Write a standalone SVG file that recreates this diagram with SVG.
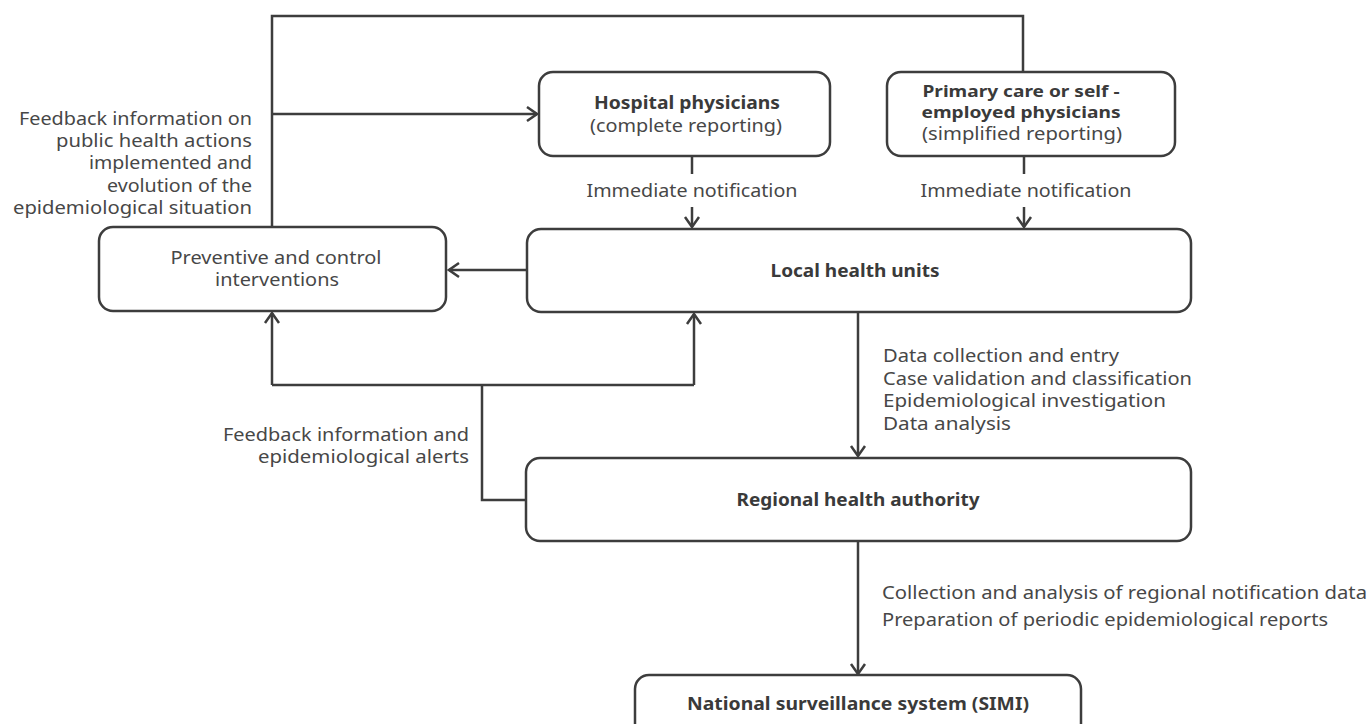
<svg xmlns="http://www.w3.org/2000/svg" width="1370" height="724" viewBox="0 0 1370 724">
<defs>
<marker id="ah" markerWidth="14" markerHeight="20" viewBox="-12 -10 14 20" refX="0" refY="0" orient="auto" markerUnits="userSpaceOnUse"><path d="M-10,-7 L0,0 L-10,7" fill="none" stroke="#3d3d3d" stroke-width="2.5"/></marker>
</defs>
<style>
.box{fill:#fff;stroke:#3d3d3d;stroke-width:2.5}
.ln{fill:none;stroke:#3d3d3d;stroke-width:2.5}
.ar{fill:none;stroke:#3d3d3d;stroke-width:2.5;marker-end:url(#ah)}
text{font-family:"Noto Sans","Open Sans","DejaVu Sans",sans-serif;fill:#474747;font-size:18px}
.b{font-weight:bold;fill:#3a3a3a;font-size:18px}
.s{font-size:16.5px}
.m{text-anchor:middle}
.e{text-anchor:end}
</style>
<rect width="1370" height="724" fill="#fff"/>
<g id="connectors">
<path class="ln" d="M272,227 V16 H1023 V72"/>
<path class="ar" d="M272,114 H537"/>
<path class="ln" d="M692,156 V174"/>
<path class="ar" d="M692,207 V227"/>
<path class="ln" d="M1024,156 V174"/>
<path class="ar" d="M1024,207 V227"/>
<path class="ar" d="M527,270 H449"/>
<path class="ar" d="M858,312 V456"/>
<path class="ln" d="M526,500 H482 V385"/>
<path class="ln" d="M272,385 H694"/>
<path class="ar" d="M272,385 V313"/>
<path class="ar" d="M694,385 V314"/>
<path class="ar" d="M858,541 V674"/>
</g>
<g id="feedback-label-1">
<text class="e" x="252" y="125" textLength="233" lengthAdjust="spacingAndGlyphs">Feedback information on</text>
<text class="e" x="252" y="147" textLength="196" lengthAdjust="spacingAndGlyphs">public health actions</text>
<text class="e" x="252" y="169" textLength="163" lengthAdjust="spacingAndGlyphs">implemented and</text>
<text class="e" x="252" y="192" textLength="145" lengthAdjust="spacingAndGlyphs">evolution of the</text>
<text class="e" x="252" y="214" textLength="239" lengthAdjust="spacingAndGlyphs">epidemiological situation</text>
</g>
<g id="hospital">
<rect class="box" x="539" y="72" width="291" height="84" rx="14"/>
<text class="m b" x="687" y="109" textLength="186" lengthAdjust="spacingAndGlyphs">Hospital physicians</text>
<text class="m" x="686" y="132" textLength="192" lengthAdjust="spacingAndGlyphs">(complete reporting)</text>
</g>
<g id="primary">
<rect class="box" x="887" y="72" width="288" height="84" rx="14"/>
<text class="m b s" x="1021" y="97" textLength="197" lengthAdjust="spacingAndGlyphs">Primary care or self -</text>
<text class="m b s" x="1021" y="118" textLength="199" lengthAdjust="spacingAndGlyphs">employed physicians</text>
<text class="m" x="1022" y="140" textLength="200" lengthAdjust="spacingAndGlyphs">(simplified reporting)</text>
</g>
<g id="notif-labels">
<text class="m" x="692" y="197" textLength="211" lengthAdjust="spacingAndGlyphs">Immediate notification</text>
<text class="m" x="1026" y="197" textLength="211" lengthAdjust="spacingAndGlyphs">Immediate notification</text>
</g>
<g id="preventive">
<rect class="box" x="99" y="227" width="347" height="84" rx="14"/>
<text class="m" x="276" y="264" textLength="211" lengthAdjust="spacingAndGlyphs">Preventive and control</text>
<text class="m" x="277" y="286" textLength="124" lengthAdjust="spacingAndGlyphs">interventions</text>
</g>
<g id="local">
<rect class="box" x="527" y="229" width="664" height="83" rx="14"/>
<text class="m b" x="855" y="277" textLength="169" lengthAdjust="spacingAndGlyphs">Local health units</text>
</g>
<g id="local-tasks">
<text x="883" y="362" textLength="236" lengthAdjust="spacingAndGlyphs">Data collection and entry</text>
<text x="883" y="385" textLength="309" lengthAdjust="spacingAndGlyphs">Case validation and classification</text>
<text x="883" y="407" textLength="283" lengthAdjust="spacingAndGlyphs">Epidemiological investigation</text>
<text x="883" y="430" textLength="128" lengthAdjust="spacingAndGlyphs">Data analysis</text>
</g>
<g id="feedback-label-2">
<text class="e" x="469" y="441" textLength="246" lengthAdjust="spacingAndGlyphs">Feedback information and</text>
<text class="e" x="469" y="463" textLength="211" lengthAdjust="spacingAndGlyphs">epidemiological alerts</text>
</g>
<g id="regional">
<rect class="box" x="526" y="458" width="665" height="83" rx="14"/>
<text class="m b" x="858" y="506" textLength="243" lengthAdjust="spacingAndGlyphs">Regional health authority</text>
</g>
<g id="regional-tasks">
<text x="882" y="599" textLength="485" lengthAdjust="spacingAndGlyphs">Collection and analysis of regional notification data</text>
<text x="882" y="626" textLength="446" lengthAdjust="spacingAndGlyphs">Preparation of periodic epidemiological reports</text>
</g>
<g id="national">
<rect class="box" x="635" y="675" width="446" height="80" rx="14"/>
<text class="m b" x="858" y="710" textLength="342" lengthAdjust="spacingAndGlyphs">National surveillance system (SIMI)</text>
</g>
</svg>
